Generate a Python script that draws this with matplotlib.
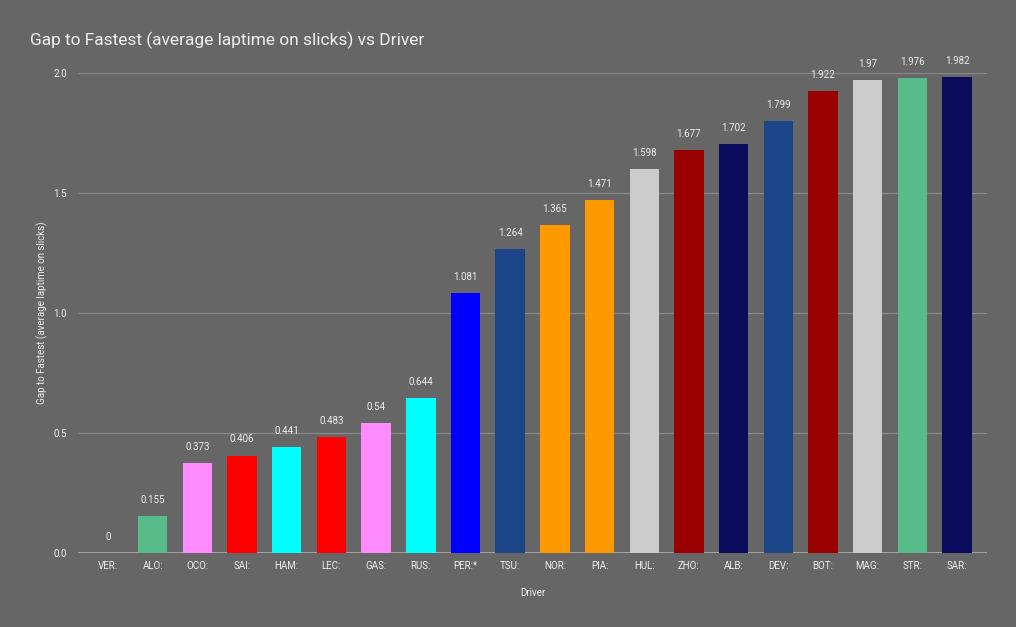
import matplotlib
matplotlib.use('Agg')
import matplotlib.pyplot as plt

# data
drivers = ['VER:', 'ALO:', 'OCO:', 'SAI:', 'HAM:', 'LEC:', 'GAS:', 'RUS:', 'PER:*', 'TSU:',
           'NOR:', 'PIA:', 'HUL:', 'ZHO:', 'ALB:', 'DEV:', 'BOT:', 'MAG:', 'STR:', 'SAR:']
gaps = [0, 0.155, 0.373, 0.406, 0.441, 0.483, 0.54, 0.644, 1.081, 1.264,
        1.365, 1.471, 1.598, 1.677, 1.702, 1.799, 1.922, 1.97, 1.976, 1.982]
value_labels = ['0', '0.155', '0.373', '0.406', '0.441', '0.483', '0.54', '0.644', '1.081', '1.264',
                '1.365', '1.471', '1.598', '1.677', '1.702', '1.799', '1.922', '1.97', '1.976', '1.982']
colors = ['#0b0b5e', '#57bb8a', '#ff8cff', '#ff0000', '#00ffff', '#ff0000', '#ff8cff', '#00ffff',
          '#0000ff', '#1c4587', '#ff9900', '#ff9900', '#cccccc', '#990000', '#0b0b5e', '#1c4587',
          '#990000', '#cccccc', '#57bb8a', '#0b0b5e']
yticks = [0.0, 0.5, 1.0, 1.5, 2.0]

bg = '#666666'
txt = '#eeeeee'
plt.rcParams['font.family'] = ['Roboto', 'DejaVu Sans']

fig = plt.figure(figsize=(10.16, 6.27), dpi=100, facecolor=bg)
ax = fig.add_axes([0.0768, 0.118, 0.8947, 0.766], facecolor=bg)

x = list(range(len(drivers)))
ax.bar(x, gaps, width=0.66, color=colors, zorder=3)
for xi, v, lab in zip(x, gaps, value_labels):
    ax.annotate(lab, (xi, v), xytext=(0, 8), textcoords='offset points',
                ha='center', va='bottom', fontsize=7, color=txt)

ax.set_xlim(-0.67, len(drivers) - 0.33)
ax.set_ylim(0, 2.0)
ax.set_yticks(yticks)
ax.set_yticklabels(['%.1f' % t for t in yticks])
ax.set_xticks(x)
ax.set_xticklabels(drivers)
ax.tick_params(axis='both', length=0, labelsize=7, colors=txt)
ax.tick_params(axis='x', pad=6)
ax.tick_params(axis='y', pad=8)
ax.grid(axis='y', color='#8a8a8a', linewidth=0.9, zorder=0)
ax.axhline(0, color='#aaaaaa', linewidth=2, zorder=2)
for s in ax.spines.values():
    s.set_visible(False)

ax.set_xlabel('Driver', fontsize=7, color=txt, labelpad=12)
ax.set_ylabel('Gap to Fastest (average laptime on slicks)', fontsize=7, color=txt, labelpad=4)
fig.text(0.03, 0.936, 'Gap to Fastest (average laptime on slicks) vs Driver',
         fontsize=12.5, color=txt, ha='left', va='center')

fig.savefig('out.png', dpi=100, facecolor=bg)
